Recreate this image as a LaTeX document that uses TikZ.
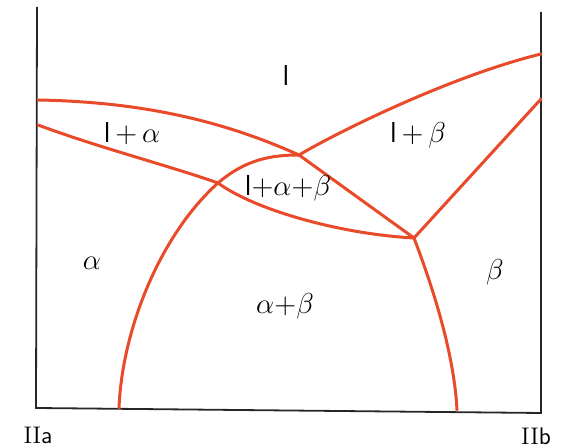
\documentclass[tikz,border=0pt]{standalone}
\usepackage{tikz}
\usetikzlibrary{positioning,calc}
\definecolor{phasered}{RGB}{232,74,42}
\tikzset{
  frame/.style={draw=black!85, line width=0.9pt},
  phase/.style={draw=phasered, line width=1.5pt, line cap=round},
  region/.style={font=\Large\sffamily, inner sep=1pt},
  corner/.style={font=\large, inner sep=1pt},
}

\begin{document}
\begin{tikzpicture}[x=0.5pt, y=-0.5pt]
        \useasboundingbox (0,0) rectangle (564,448);
        % frame
        \coordinate (TL) at (37,7);
        \coordinate (BL) at (36,408);
        \coordinate (BR) at (541,413);
        \coordinate (TR) at (541,12);
        \draw[frame] (TL) -- (BL) -- (BR) -- (TR);
        % special points
        \coordinate (LA) at (38,100);
        \coordinate (SA) at (38,125);
        \coordinate (E) at (299,155);
        \coordinate (P) at (218,183);
        \coordinate (Q) at (414,238);
        \coordinate (LB) at (541,54);
        \coordinate (SB) at (541,99);
        \coordinate (A0) at (119,408);
        \coordinate (B0) at (457,410);
        % liquidus
        \draw[phase] (LA) .. controls (150,102) and (230,124) .. (E);
        \draw[phase] (E) .. controls (345,128) and (455,75) .. (LB);
        % solidus
        \draw[phase] (SA) .. controls (100,148) and (170,166) .. (P);
        \draw[phase] (P) .. controls (255,210) and (340,234) .. (Q);
        \draw[phase] (E) -- (Q);
        \draw[phase] (Q) -- (SB);
        % solvus
        \draw[phase] (A0) .. controls (122,330) and (160,235) .. (P)
          .. controls (245,160) and (270,155) .. (E);
        \draw[phase] (Q) .. controls (430,280) and (454,350) .. (B0);
        % labels
        \node[region] (l) at (286,76) {l};
        \node[region] (la) at (132,134) {l\,+\,$\alpha$};
        \node[region] (lb) at (418,135) {l\,+\,$\beta$};
        \node[region] (lab) at (288,188) {l${+}\alpha{+}\beta$};
        \node[region] (a) at (92,263) {$\alpha$};
        \node[region] (ab) at (285,306) {$\alpha{+}\beta$};
        \node[region] (b) at (495,272) {$\beta$};
        \node[corner] (IIa) at (38,435) {II\textsf{a}};
        \node[corner] (IIb) at (536,436) {II\textsf{b}};
      \end{tikzpicture}
\end{document}
